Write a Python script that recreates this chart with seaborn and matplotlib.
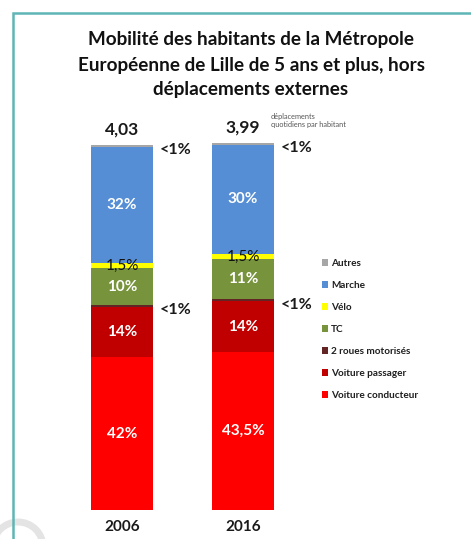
import matplotlib
matplotlib.use("Agg")
import matplotlib.pyplot as plt
from matplotlib.patches import Rectangle, Patch, Arc
import seaborn as sns
import pandas as pd
import numpy as np

# Mode shares (%) per survey year, listed from the bottom of the stack upwards
years = ["2006", "2016"]
modes = ["Voiture conducteur", "Voiture passager", "2 roues motorisés",
         "TC", "Vélo", "Marche", "Autres"]
share_2006 = [42, 14, 0.5, 10, 1.5, 32, 0.5]
share_2016 = [43.5, 14, 0.5, 11, 1.5, 30, 0.5]
trips_per_person = ["4,03", "3,99"]
colors = ["#ff0000", "#c00000", "#632523", "#77933c", "#ffff00", "#558ed5", "#a6a6a6"]

# Printed labels inside / beside each segment
seg_labels_2006 = ["42%", "14%", "<1%", "10%", "1,5%", "32%", "<1%"]
seg_labels_2016 = ["43,5%", "14%", "<1%", "11%", "1,5%", "30%", "<1%"]

sns.set_theme(style="white")
plt.rcParams["font.family"] = ["Lato", "DejaVu Sans"]

W, H = 471, 539
fig = plt.figure(figsize=(W / 100, H / 100), dpi=100)
ax = fig.add_axes([0, 0, 1, 1])
ax.set_axis_off()

shares = np.array([share_2006, share_2016])
cum = shares.cumsum(axis=1)

# Stacked bars: draw cumulative totals from the top segment down
for i in range(len(modes) - 1, -1, -1):
    df = pd.DataFrame({"year": years, "value": cum[:, i]})
    sns.barplot(data=df, x="year", y="value", color=colors[i], width=0.51,
                saturation=1, ax=ax, linewidth=0, errorbar=None)

# pixel-to-data mapping: bar centres at x=122 and x=243, baseline at y=510
px_per_x = 121.0
px_per_y = 365.0 / 100.5
ax.set_xlim(-122 / px_per_x, (W - 122) / px_per_x)
ax.set_ylim(-(H - 510) / px_per_y, 510 / px_per_y)

labels = [seg_labels_2006, seg_labels_2016]
for j in range(2):
    bottoms = np.concatenate([[0], cum[j, :-1]])
    for i, lab in enumerate(labels[j]):
        mid = bottoms[i] + shares[j, i] / 2
        if lab == "<1%":
            ax.text(j + 0.31, mid - 1.2, lab, ha="left", va="center",
                    fontsize=11.5, fontweight="bold", color="#1a1a1a")
        elif lab == "1,5%":
            ax.text(j, mid, lab, ha="center", va="center",
                    fontsize=11, color="#111111")
        else:
            ax.text(j, mid, lab, ha="center", va="center",
                    fontsize=11, color="white", fontweight="bold")
    ax.text(j, cum[j, -1] + 2.0, trips_per_person[j], ha="center", va="bottom",
            fontsize=12.5, fontweight="bold", color="#1a1a1a")
    ax.text(j, -4.6, years[j], ha="center", va="center",
            fontsize=11, fontweight="bold", color="#1a1a1a")

ax.text(1.23, cum[1, -1] + 4.2, "déplacements\nquotidiens par habitant",
        ha="left", va="bottom", fontsize=5.3, color="#555555", linespacing=1.1)

title_lines = ["Mobilité des habitants de la Métropole",
               "Européenne de Lille de 5 ans et plus, hors",
               "déplacements externes"]
for k, line in enumerate(title_lines):
    fig.text(251 / W, 1 - (40 + 25 * k) / H, line, ha="center", va="center",
             fontsize=13.6, fontweight="bold", color="#111111")

handles = [Patch(facecolor=colors[i], edgecolor="none", label=modes[i])
           for i in range(len(modes) - 1, -1, -1)]
leg = fig.legend(handles=handles, loc="upper left",
                 bbox_to_anchor=(317 / W, 1 - 254 / H), frameon=False,
                 prop={"weight": "bold", "size": 7.2, "family": ["Lato", "DejaVu Sans"]},
                 handlelength=0.6, handleheight=0.6,
                 handletextpad=0.3, labelspacing=1.3, borderpad=0)
for t in leg.get_texts():
    t.set_color("#1f1f1f")

# outer frame and faint decorative arc
fig.patches.append(Arc((18 / W, 1 - 547 / H), 50 / W, 50 / H,
                       theta1=0, theta2=180, transform=fig.transFigure,
                       edgecolor="#e4e4e4", linewidth=5))
fig.patches.append(Rectangle((13 / W, -0.1), 1.2, 1.1 - 13 / H,
                             transform=fig.transFigure, fill=False,
                             edgecolor="#5fb5b5", linewidth=1.8))

fig.savefig("out.png", dpi=100)
